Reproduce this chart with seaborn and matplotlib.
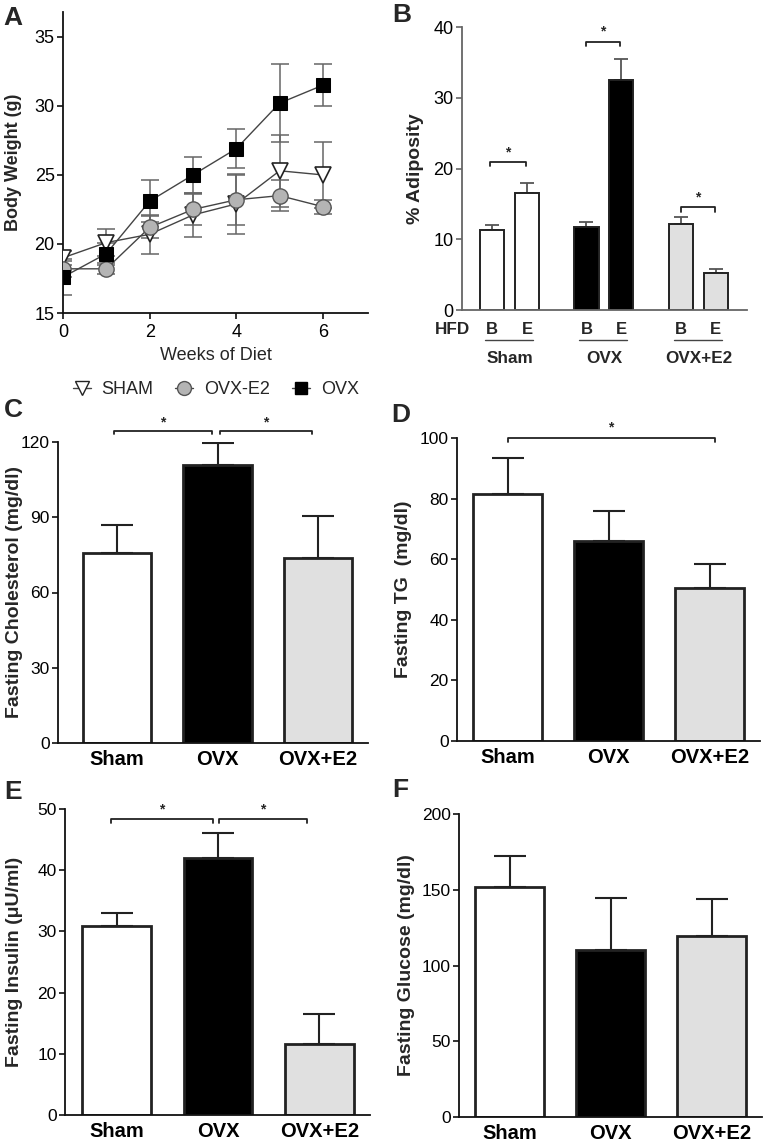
import numpy as np
import pandas as pd
import matplotlib
matplotlib.use("Agg")
import matplotlib.pyplot as plt
import seaborn as sns
from matplotlib.lines import Line2D

sns.set_theme(style="ticks")
plt.rcParams['font.family'] = ['Liberation Sans', 'DejaVu Sans']

# ---------------- data ----------------
weeks = [0, 1, 2, 3, 4, 5, 6]
sham_bw = [19.0, 20.1, 20.7, 22.1, 22.9, 25.3, 25.0]
sham_bw_err = [0.5, 0.95, 1.4, 1.6, 2.2, 2.6, 2.4]
ovxe2_bw = [18.2, 18.2, 21.2, 22.5, 23.2, 23.5, 22.7]
ovxe2_bw_err = [0.6, 0.4, 0.8, 1.1, 1.8, 1.1, 0.5]
ovx_bw = [17.6, 19.3, 23.1, 25.0, 26.9, 30.2, 31.5]
ovx_bw_err = [1.3, 0.8, 1.5, 1.3, 1.4, 2.8, 1.5]

groups = ['Sham', 'OVX', 'OVX+E2']
hfd_levels = ['B', 'E']
adip_B = [11.3, 11.7, 12.2]
adip_B_err = [0.7, 0.7, 1.0]
adip_E = [16.6, 32.5, 5.3]
adip_E_err = [1.3, 3.0, 0.5]

chol = [75.6, 110.8, 73.6]
chol_err = [11.2, 8.8, 16.8]
tg = [81.5, 66.0, 50.5]
tg_err = [11.9, 9.9, 7.9]
insulin = [30.9, 42.0, 11.6]
insulin_err = [2.1, 4.1, 4.9]
glucose = [152.0, 110.5, 119.7]
glucose_err = [20.0, 34.0, 24.5]

colors = ['white', 'black', '#e0e0e0']
pal = dict(zip(groups, colors))

W, H = 765, 1141
fig = plt.figure(figsize=(W / 100, H / 100), dpi=100)


def px_axes(l, r, t, b):
    return fig.add_axes([l / W, 1 - b / H, (r - l) / W, (b - t) / H])


def style_axes(ax, spine_col='#111111', size=12.5):
    sns.despine(ax=ax)
    for s in ['left', 'bottom']:
        ax.spines[s].set_color(spine_col)
        ax.spines[s].set_linewidth(1.3)
    ax.tick_params(axis='both', labelsize=size, length=4, width=1.2,
                   color=spine_col, labelcolor='black', pad=2)


# ---------------- Panel A ----------------
axA = px_axes(63, 368, 12, 313)
eb_kw = dict(fmt='none', ecolor='#666666', elinewidth=1.1, capsize=6.5, capthick=1.1)
axA.errorbar(weeks, sham_bw, yerr=sham_bw_err, zorder=1, **eb_kw)
axA.errorbar(weeks, ovxe2_bw, yerr=ovxe2_bw_err, zorder=1, **eb_kw)
axA.errorbar(weeks, ovx_bw, yerr=ovx_bw_err, zorder=1, **eb_kw)
sns.lineplot(x=weeks, y=sham_bw, ax=axA, color='#444444', linewidth=1,
             marker='v', markersize=11, markerfacecolor='white',
             markeredgecolor='#222222', markeredgewidth=1.2, zorder=3)
sns.lineplot(x=weeks, y=ovxe2_bw, ax=axA, color='#444444', linewidth=1,
             marker='o', markersize=11, markerfacecolor='#b4b4b4',
             markeredgecolor='#555555', markeredgewidth=1.0, zorder=4)
sns.lineplot(x=weeks, y=ovx_bw, ax=axA, color='#444444', linewidth=1,
             marker='s', markersize=10, markerfacecolor='black',
             markeredgecolor='black', zorder=5)
axA.set_xlim(0, 7.04)
axA.set_ylim(15, 36.8)
axA.set_xticks([0, 2, 4, 6])
axA.set_yticks([15, 20, 25, 30, 35])
style_axes(axA, size=13)
axA.tick_params(axis='x', pad=4)
axA.set_xlabel('Weeks of Diet', fontsize=13, labelpad=4)
axA.set_ylabel('Body Weight (g)', fontsize=13, fontweight='bold')
axA.yaxis.set_label_coords(-0.135, 0.5)

handles = [
    Line2D([], [], color='#444444', lw=1, marker='v', markersize=10,
           markerfacecolor='white', markeredgecolor='#222222'),
    Line2D([], [], color='#444444', lw=1, marker='o', markersize=10,
           markerfacecolor='#b4b4b4', markeredgecolor='#555555'),
    Line2D([], [], color='#444444', lw=1, marker='s', markersize=9,
           markerfacecolor='black', markeredgecolor='black'),
]
fig.legend(handles, ['SHAM', 'OVX-E2', 'OVX'], loc='center',
           bbox_to_anchor=(0.282, 1 - 390 / H), ncol=3, frameon=False,
           fontsize=13, handlelength=1.0, handletextpad=0.6, columnspacing=1.2)

# ---------------- Panel B ----------------
axB = px_axes(462, 747, 27, 310)
grp_step = 2.7
rows = []
for g, grp in enumerate(groups):
    rows.append(dict(pos=g * grp_step + 0, grp=grp, val=adip_B[g], err=adip_B_err[g]))
    rows.append(dict(pos=g * grp_step + 1, grp=grp, val=adip_E[g], err=adip_E_err[g]))
dfB = pd.DataFrame(rows)
axB.errorbar(dfB['pos'], dfB['val'], yerr=[np.zeros(len(dfB)), dfB['err']],
             fmt='none', ecolor='#555555', elinewidth=1.3, capsize=5, capthick=1.3, zorder=1)
sns.barplot(data=dfB, x='pos', y='val', hue='grp', palette=pal, native_scale=True,
            dodge=False, width=0.69, edgecolor='#222222', linewidth=1.4,
            errorbar=None, legend=False, ax=axB, zorder=2)
axB.set_xlim(-0.857, 7.29)
axB.set_ylim(0, 40)
axB.set_yticks([0, 10, 20, 30, 40])
style_axes(axB, spine_col='#666666', size=13)
axB.set_xticks([])
axB.set_xlabel('')
axB.set_ylabel('% Adiposity', fontsize=14, fontweight='bold')
axB.yaxis.set_label_coords(-0.135, 0.5)
axB.text(-1.14, -2.7, 'HFD', ha='center', va='center', fontsize=12.3, fontweight='bold', clip_on=False)
for g, grp in enumerate(groups):
    x0 = g * grp_step
    for k, lev in enumerate(hfd_levels):
        axB.text(x0 + k, -2.7, lev, ha='center', va='center', fontsize=12,
                 fontweight='bold', clip_on=False)
    axB.plot([x0 - 0.2, x0 + 1.17], [-4.3, -4.3], color='#444444', lw=1, clip_on=False)
    axB.text(x0 + 0.5, -6.9, grp, ha='center', va='center', fontsize=12.3,
             fontweight='bold', clip_on=False)


def bracket(ax, x1, x2, y, dy, star_y, fs=10):
    ax.plot([x1, x1, x2, x2], [y - dy, y, y, y - dy], color='#222222', lw=1.3,
            clip_on=False)
    ax.text((x1 + x2) / 2, star_y, '*', ha='center', va='center', fontsize=fs,
            fontweight='bold', clip_on=False)


bracket(axB, -0.06, 0.97, 20.9, 0.6, 22.3)
bracket(axB, 2.69, 3.66, 37.9, 0.6, 39.3)
bracket(axB, 5.4, 6.37, 14.5, 0.6, 15.9)


# ---------------- Panels C-F ----------------
def bar_panel(ax, vals, errs, ylim, yticks, ylabel, xlim, label_x):
    df = pd.DataFrame(dict(grp=groups, val=vals, err=errs))
    ax.errorbar(np.arange(len(groups)), df['val'], yerr=[np.zeros(3), df['err']],
                fmt='none', ecolor='#222222', elinewidth=1.5, capsize=11.5, capthick=1.5,
                zorder=1)
    sns.barplot(data=df, x='grp', y='val', hue='grp', palette=pal, width=0.68,
                edgecolor='#222222', linewidth=2.0, errorbar=None, legend=False,
                ax=ax, zorder=2)
    ax.set_xlim(*xlim)
    ax.set_ylim(*ylim)
    ax.set_yticks(yticks)
    style_axes(ax)
    ax.tick_params(axis='x', length=0, labelsize=14.5, pad=5)
    for t in ax.get_xticklabels():
        t.set_fontweight('bold')
    ax.set_xlabel('')
    ax.set_ylabel(ylabel, fontsize=14, fontweight='bold')
    ax.yaxis.set_label_coords(label_x, 0.5)


axC = px_axes(58, 368, 442, 743)
bar_panel(axC, chol, chol_err, (0, 120), [0, 30, 60, 90, 120],
          'Fasting Cholesterol (mg/dl)', (-0.59, 2.5), -0.113)
bracket(axC, -0.03, 0.945, 124.4, 1.4, 127.6)
bracket(axC, 1.025, 1.94, 124.4, 1.4, 127.6)

axD = px_axes(457, 760, 438, 741)
bar_panel(axD, tg, tg_err, (0, 100), [0, 20, 40, 60, 80, 100],
          'Fasting TG  (mg/dl)', (-0.5, 2.5), -0.15)
bracket(axD, 0.0, 2.05, 100.0, 1.4, 103.4)

axE = px_axes(65, 370, 809, 1115)
bar_panel(axE, insulin, insulin_err, (0, 50), [0, 10, 20, 30, 40, 50],
          'Fasting Insulin (\u03bcU/ml)', (-0.51, 2.5), -0.138)
bracket(axE, -0.06, 0.946, 48.4, 0.7, 50.0)
bracket(axE, 1.01, 1.88, 48.4, 0.7, 50.0)

axF = px_axes(459, 762, 814, 1117)
bar_panel(axF, glucose, glucose_err, (0, 200), [0, 50, 100, 150, 200],
          'Fasting Glucose (mg/dl)', (-0.5, 2.5), -0.145)

# ---------------- panel letters ----------------
for letter, (x, y) in dict(A=(13, 18), B=(402, 15), C=(13, 410), D=(401, 415),
                           E=(13, 792), F=(400, 790)).items():
    fig.text(x / W, 1 - y / H, letter, ha='center', va='center', fontsize=19,
             fontweight='bold')

fig.savefig('out.png', dpi=100)
